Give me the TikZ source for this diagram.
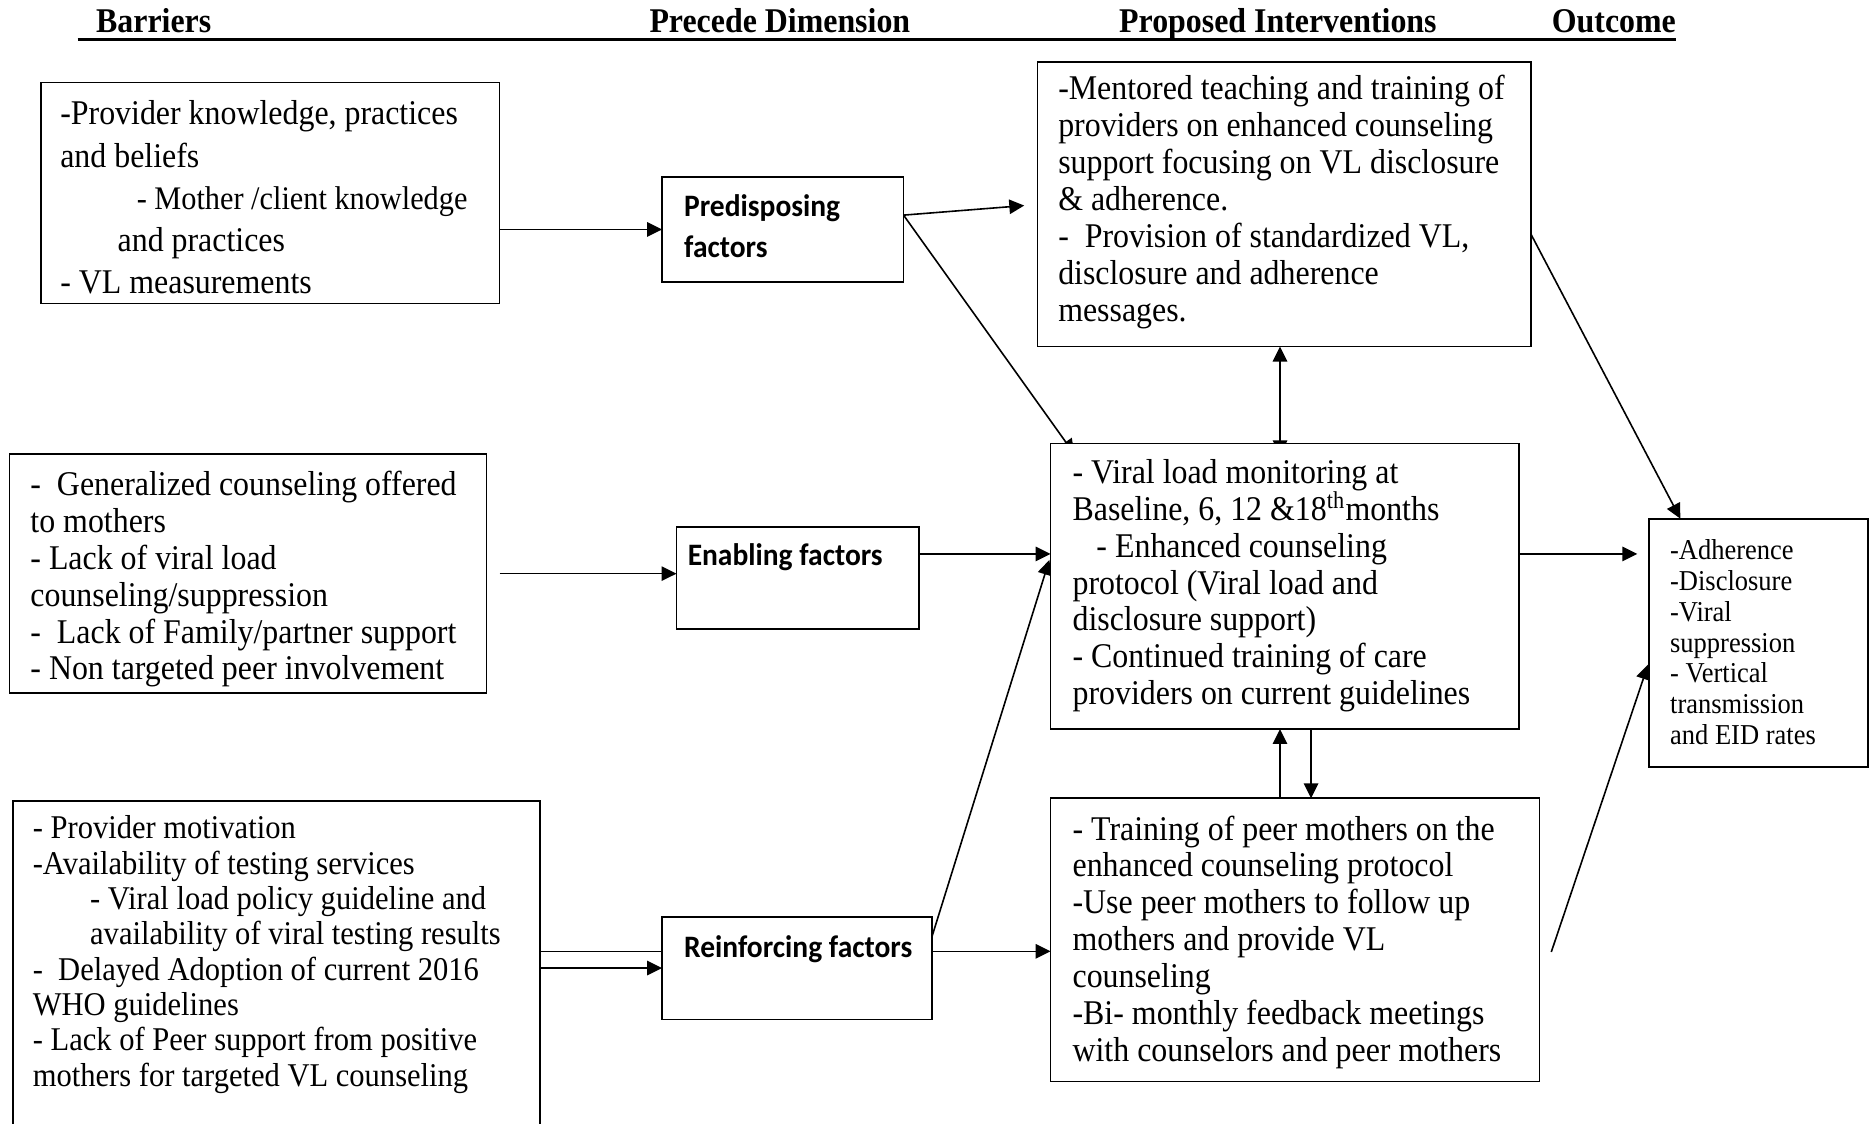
\documentclass[tikz,border=0pt]{standalone}
\usepackage{fontspec}
\setmainfont{Liberation Serif}[FakeStretch=0.92]
\newfontfamily\labelfont{Carlito}[FakeStretch=0.945]
\usetikzlibrary{arrows.meta,calc,fit,backgrounds}
\newdimen\pxu \pxu=0.4482pt
\begin{document}
\begin{tikzpicture}[x=0.4482pt, y=-0.4482pt,
  box/.style={draw, line width=0.65pt, fill=white, inner sep=0pt, outer sep=0pt},
  arr/.style={line width=0.6pt, -{Triangle[length=5.6pt,width=5.4pt]}},
  dbl/.style={line width=0.6pt, {Triangle[length=5.6pt,width=5.4pt]}-{Triangle[length=5.6pt,width=5.4pt]}},
  plain/.style={line width=0.6pt},
  txt/.style={anchor=north west, inner sep=0pt, align=left},
  body/.style={txt, font=\fontsize{13}{#1}\selectfont},
  tag/.style={inner sep=0pt, align=left, font=\labelfont\bfseries\fontsize{11.7}{15.4}\selectfont},
  head/.style={anchor=base west, inner sep=0pt, font=\bfseries\fontsize{13}{15}\selectfont}]

\useasboundingbox (0,0) rectangle (1568,940);
\clip (0,0) rectangle (1568,940);

% column headings with one long underline
\node[head] (h1) at (80,27) {Barriers};
\node[head] (h2) at (543,27) {Precede Dimension};
\node[head] (h3) at (936,27) {Proposed Interventions};
\node[head] (h4) at (1298,27) {Outcome};
\draw[line width=1.3pt] ($(h1.base west)+(-15,6)$) coordinate (ul) -- (ul -| h4.base east);

% boxes
\node[box, fit={(34,69) (418,254)}] (A) {};
\node[box, fit={(8,380) (407,580)}] (B) {};
\node[box, fit={(11,670) (452,960)}] (C) {};
\node[box, fit={(554,148) (756,236)}] (P) {};
\node[box, fit={(566,441) (769,526)}] (E) {};
\node[box, fit={(554,767) (780,853)}] (R) {};
\node[box, fit={(868,52) (1281,290)}] (M) {};
\node[box, fit={(879,371) (1271,610)}] (V) {};
\node[box, fit={(879,668) (1288,905)}] (T) {};
\node[box, fit={(1380,434) (1563,642)}] (O) {};

% barrier texts
\node[body=15.8pt] (At) at (50,84) {-Provider knowledge, practices\\and beliefs\\\hspace*{64\pxu}{\fontsize{12.35}{15.8}\selectfont - Mother /client knowledge}\\\hspace*{48\pxu}and practices\\- VL measurements};
\node[body=13.8pt] (Bt) at (25,394) {-\ \ Generalized counseling offered\\to mothers\\- Lack of viral load\\counseling/suppression\\-\ \ Lack of Family/partner support\\- Non targeted peer involvement};
\node[txt, font=\fontsize{12.45}{13.26}\selectfont] (Ct) at (27,682) {- Provider motivation\\-Availability of testing services\\\hspace*{48\pxu}- Viral load policy guideline and\\\hspace*{48\pxu}availability of viral testing results\\-\ \ Delayed Adoption of current 2016\\WHO guidelines\\- Lack of Peer support from positive\\mothers for targeted VL counseling};

% PRECEDE dimensions
\node[tag, anchor=north west] (Pt) at (572,162) {Predisposing\\factors};
\node[tag, anchor=base west] (Et) at (575,473) {Enabling factors};
\node[tag, anchor=base west] (Rt) at (572,801) {Reinforcing factors};

% interventions
\node[body=13.9pt] (Mt) at (885,62) {-Mentored teaching and training of\\providers on enhanced counseling\\support focusing on VL disclosure\\\& adherence.\\-\ \ Provision of standardized VL,\\disclosure and adherence\\messages.};
\node[body=13.82pt] (Vt) at (897,384) {- Viral load monitoring at\\Baseline, 6, 12 \&18\textsuperscript{th}months\\\hspace*{20\pxu}- Enhanced counseling\\protocol (Viral load and\\disclosure support)\\- Continued training of care\\providers on current guidelines};
\node[body=13.82pt] (Tt) at (897,682) {- Training of peer mothers on the\\enhanced counseling protocol\\-Use peer mothers to follow up\\mothers and provide VL\\counseling\\-Bi- monthly feedback meetings\\with counselors and peer mothers};

% outcome
\node[txt, font=\fontsize{10.8}{11.57}\selectfont] (Ot) at (1397,451) {-Adherence\\-Disclosure\\-Viral\\suppression\\- Vertical\\transmission\\and EID rates};

% connectors (behind the boxes)
\begin{pgfonlayer}{background}
  \draw[arr] (A.east |- P.west) -- (P.west);
  \draw[arr] ($(P.east)+(0,-12)$) -- ($(M.west)+(-11,1)$);
  \draw[arr] ($(P.east)+(0,-12)$) -- ($(V.north west)+(20,9)$);
  \draw[dbl] ($(M.south)+(-3.5,0)$) -- ($(V.north)+(-4,10)$);

  \draw[arr] ($(B.east)+(11,0)$) coordinate (b1) -- (E.west |- b1);
  \draw[arr] ($(E.east)+(0,-20)$) coordinate (e1) -- (V.west |- e1);

  \draw[plain] ($(C.east |- R.west)+(0,-14)$) -- ($(R.west)+(0,-14)$);
  \draw[arr] (C.east |- R.west) -- (R.west);
  \draw[arr] ($(R.east)+(0,-27)$) -- ($(V.west)+(-1,-22)$);
  \draw[arr] ($(R.east)+(0,-14)$) coordinate (r1) -- (T.west |- r1);

  \draw[arr] ($(T.north)+(-12.5,0)$) coordinate (t1) -- (t1 |- V.south);
  \draw[arr] ($(V.south)+(22,-8)$) coordinate (v2) -- (v2 |- T.north);

  \draw[arr] ($(V.east)+(0,-27)$) coordinate (v1) -- ($(O.west |- v1)+(-10,0)$);
  \draw[arr] ($(M.east)+(0,25)$) -- ($(O.north west)+(26,0)$);
  \coordinate (tfree) at ($(T.east)+(10,10)$);
  \draw[arr] (tfree) -- ($(O.west)+(-1,18)$);
\end{pgfonlayer}
\end{tikzpicture}
\end{document}
